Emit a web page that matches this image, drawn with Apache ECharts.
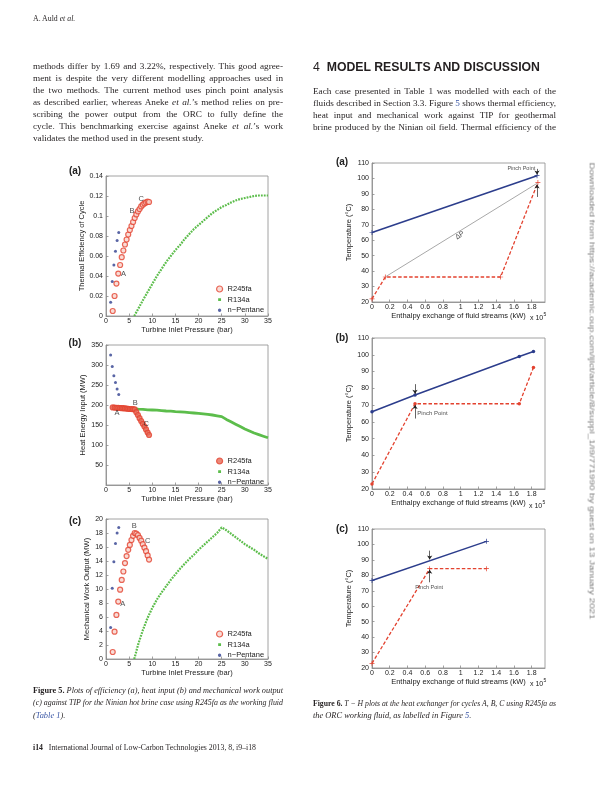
<!DOCTYPE html>
<html><head><meta charset="utf-8">
<script src="https://cdn.jsdelivr.net/npm/echarts@6.0.0/dist/echarts.min.js"></script>
<style>
html,body{margin:0;padding:0;background:#fff;}
#page{position:relative;width:612px;height:791px;overflow:hidden;background:#fff;}
#chart{position:absolute;left:0;top:0;width:612px;height:791px;}
.tx{position:absolute;color:#231f20;font-family:'Liberation Serif',serif;white-space:nowrap;line-height:12px;}
.j{text-align:justify;text-align-last:justify;}
.lnk{color:#3a56a5;}
</style></head><body><div id="page"><div id="chart"></div></div>
<script>
// ---------------- DATA (Figure 5) ----------------
const tipR245fa  = [1.45,1.85,2.25,2.65,3.05,3.4,3.75,4.1,4.45,4.8,5.15,5.5,5.85,6.2,6.55,6.9,7.25,7.6,7.95,8.3,8.65,9.0,9.3];
const effR245fa  = [0.005,0.020,0.0324,0.0424,0.051,0.0588,0.0655,0.0715,0.0765,0.0815,0.086,0.090,0.094,0.098,0.1016,0.1046,0.107,0.1096,0.1113,0.1126,0.1136,0.1143,0.1140];
const heatR245fa = [194,193.5,193,193,192.5,192,192,191.5,191,190.5,190,190,189.5,189,182,175,167,160,153,146,139,131,125];
const workR245fa = [1.0,3.9,6.3,8.2,9.9,11.3,12.5,13.7,14.7,15.6,16.3,17.0,17.6,18.0,17.9,17.7,17.3,16.9,16.4,15.9,15.4,14.8,14.2];

const tipPentane  = [1.0,1.35,1.7,2.05,2.4,2.75];
const effPentane  = [0.0137,0.0344,0.051,0.0648,0.0755,0.0835];
const heatPentane = [325,296,273,256,240,226];
const workPentane = [4.5,10.1,13.9,16.5,18.0,18.8];

const tipR134a  = [6.1,7,8,9,10,11,12,13,14,15,16,17,18,19,20,21,22,23,24,25,26,27,28,29,30,31,32,33,34,35];
const effR134a  = [0,0.0075,0.016,0.024,0.032,0.040,0.047,0.054,0.060,0.066,0.071,0.077,0.082,0.087,0.091,0.095,0.099,0.103,0.106,0.109,0.111,0.1135,0.1155,0.117,0.118,0.119,0.120,0.1205,0.1205,0.1205];
const heatR134a = [190,189.5,189,188,187.5,187,186,185,184.5,183.5,183,182,181,180,179,178,176.5,175,173,171,164,158,152,146,140,135,130,126,122,118];
const workR134a = [0,2.2,4.2,5.9,7.3,8.5,9.5,10.4,11.3,12.1,12.9,13.6,14.3,14.9,15.6,16.2,16.8,17.4,18.0,18.8,18.4,17.9,17.4,16.9,16.4,16.0,15.6,15.1,14.7,14.3];

const legendNames = ['R245fa','R134a','n\u2212Pentane'];
const tipTicks = [0,5,10,15,20,25,30,35];

const cycleLabelsEff  = [{t:'A',x:3.8,y:0.0424},{t:'B',x:5.6,y:0.105},{t:'C',x:7.63,y:0.1173}];
const cycleLabelsHeat = [{t:'A',x:2.4,y:179},{t:'B',x:6.3,y:204},{t:'C',x:8.7,y:153}];
const cycleLabelsWork = [{t:'A',x:3.6,y:7.9},{t:'B',x:6.1,y:19.05},{t:'C',x:9.0,y:16.85}];

// ---------------- DATA (Figure 6), enthalpy in 10^5 kW, temperature in °C ----------------
const figA_hotH = [0,1.86],            figA_hotT = [65,101.8];
const figA_orcH = [0,0.15,1.45,1.87],  figA_orcT = [22,36.2,36.2,97.4];
const figA_refH = [0.16,1.86],         figA_refT = [36.6,96.8];
const figB_hotH = [0,0.485,1.66,1.82], figB_hotT = [66,76,99,102];
const figB_orcH = [0,0.485,1.66,1.82], figB_orcT = [23,70.8,70.8,92.4];
const figC_hotH = [0,1.29],            figC_hotT = [76.7,102];
const figC_orcH = [0,0.65,1.29],       figC_orcT = [23,84.3,84.3];

const pinchArrowsA = [[[1.86,106.2],[1.86,102.5]],[[1.86,88],[1.86,96]]];
const pinchArrowsB = [[[0.485,82.5],[0.485,76.7]],[[0.485,62],[0.485,70.1]]];
const pinchArrowsC = [[[0.65,96],[0.65,90.3]],[[0.65,75.5],[0.65,83.6]]];
const notesA = [{t:'Pinch Point',x:1.84,y:106.5,align:'right'},{t:'\u0394P',x:0.99,y:63.2,rot:32,size:7}];
const notesB = [{t:'Pinch Point',x:0.51,y:65,align:'left'}];
const notesC = [{t:'Pinch Point',x:0.644,y:72.4}];

// ---------------- PAGE TEXT ----------------
const page = document.getElementById('page');
function place(html, left, cy, o){
  const d=document.createElement('div'); d.className='tx'; d.innerHTML=html;
  d.style.fontSize=(o.size||9.2)+'px';
  if(o.family) d.style.fontFamily=o.family;
  if(o.color) d.style.color=o.color;
  d.style.left=left+'px'; d.style.top=(cy-6)+'px';
  page.appendChild(d);
  const w=d.getBoundingClientRect().width;
  if(o.justify){
    if(w>o.justify){ d.style.transformOrigin='0 50%'; d.style.transform='scaleX('+(o.justify/w)+')'; }
    else { d.style.whiteSpace='normal'; d.style.width=o.justify+'px'; d.classList.add('j'); }
  } else if(o.fit){
    d.style.transformOrigin='0 50%'; d.style.transform='scaleX('+(o.fit/w)+')';
  }
  return d;
}
place('A. Auld <i>et al.</i>',33,19,{size:7.8});
const leftLines=[
 'methods differ by 1.69 and 3.22%, respectively. This good agree-',
 'ment is despite the very different modelling approaches used in',
 'the two methods. The current method uses pinch point analysis',
 'as described earlier, whereas Aneke <i>et al.</i>\u2019s method relies on pre-',
 'scribing the power output from the ORC to fully define the',
 'cycle. This benchmarking exercise against Aneke <i>et al.</i>\u2019s work',
 'validates the method used in the present study.'];
leftLines.forEach((s,i)=>place(s,33,66+i*12,i<6?{justify:250}:{}));
place('<span style="font-weight:400">4</span>&nbsp;&nbsp;<b>MODEL RESULTS AND DISCUSSION</b>',313,67,{size:13.5,family:"'Liberation Sans',sans-serif",fit:227});
const rightLines=[
 'Each case presented in Table 1 was modelled with each of the',
 'fluids described in Section 3.3. Figure <span class="lnk">5</span> shows thermal efficiency,',
 'heat input and mechanical work against TIP for geothermal',
 'brine produced by the Ninian oil field. Thermal efficiency of the'];
rightLines.forEach((s,i)=>place(s,313,91+i*12,{justify:243}));
const cap5=[
 '<b>Figure 5.</b> <i>Plots of efficiency (a), heat input (b) and mechanical work output</i>',
 '<i>(c) against TIP for the Ninian hot brine case using R245fa as the working fluid</i>',
 '<i>(<span class="lnk">Table 1</span>).</i>'];
cap5.forEach((s,i)=>place(s,33,691+i*12.3,i<2?{size:8.4,justify:250}:{size:8.4}));
const cap6=[
 '<b>Figure 6.</b> <i>T \u2212 H plots at the heat exchanger for cycles A, B, C using R245fa as</i>',
 '<i>the ORC working fluid, as labelled in Figure <span class="lnk">5</span>.</i>'];
cap6.forEach((s,i)=>place(s,313,704+i*12.3,i<1?{size:8.4,justify:243}:{size:8.4}));
place('<b>i14</b>&nbsp;&nbsp; International Journal of Low-Carbon Technologies 2013, 8, i9\u2013i18',33,748,{size:8.4,fit:223});
(function(){
  const d=document.createElement('div'); d.className='tx';
  d.textContent='Downloaded from https://academic.oup.com/ijlct/article/8/suppl_1/i9/771990 by guest on 13 January 2021';
  d.style.fontFamily="'Liberation Sans',sans-serif"; d.style.fontSize='7.2px'; d.style.color='#7a7a7a';
  page.appendChild(d);
  const w=d.getBoundingClientRect().width;
  d.style.left=(592-w/2)+'px'; d.style.top=(391-6)+'px';
  d.style.transformOrigin='50% 50%';
  d.style.transform='rotate(90deg) scaleX('+(457/w)+')';
})();

// ---------------- CHART ----------------
const F='Liberation Sans', TXT='#222', AX='#8a8a8a';
const C_RED='#e3422f', C_GREEN='#5cbd4b', C_BLUE='#2f3f8f', C_HOT='#2c3d8c', C_GRAY='#a8a8a8';
const gridsPx=[
 {left:106,top:176,width:162,height:140},
 {left:106,top:345,width:162,height:140},
 {left:106,top:519,width:162,height:140},
 {left:372,top:163,width:173,height:139},
 {left:372,top:338,width:173,height:151},
 {left:372,top:529,width:173,height:139}];
const grid=gridsPx.map(g=>Object.assign({show:true,borderColor:AX,borderWidth:0.8,backgroundColor:'rgba(0,0,0,0)'},g));

function vAxis(i,min,max,interval,name,nameGap,labelMargin,lblExtra){
  return {type:'value',gridIndex:i,min,max,interval,name,nameLocation:'middle',nameGap,
    nameTextStyle:{fontFamily:F,fontSize:7.5,color:TXT},
    axisLine:{show:true,onZero:false,lineStyle:{color:AX,width:0.8}},
    axisTick:{show:true,inside:true,length:2.5,lineStyle:{color:AX,width:0.8}},
    axisLabel:Object.assign({fontFamily:F,fontSize:7,color:TXT,margin:labelMargin},lblExtra||{}),
    splitLine:{show:false}};
}
const xAxis=[
  vAxis(0,tipTicks[0],tipTicks[tipTicks.length-1],5,'Turbine Inlet Pressure (bar)',10,2),
  vAxis(1,tipTicks[0],tipTicks[tipTicks.length-1],5,'Turbine Inlet Pressure (bar)',10,2),
  vAxis(2,tipTicks[0],tipTicks[tipTicks.length-1],5,'Turbine Inlet Pressure (bar)',10,2),
  vAxis(3,0,1.95,0.2,'Enthalpy exchange of fluid streams (kW)',8,2,{showMaxLabel:false}),
  vAxis(4,0,1.95,0.2,'Enthalpy exchange of fluid streams (kW)',8,2,{showMaxLabel:false}),
  vAxis(5,0,1.95,0.2,'Enthalpy exchange of fluid streams (kW)',8,2,{showMaxLabel:false})];
const yAxis=[
  vAxis(0,0,0.14,0.02,'Thermal Efficiency of Cycle',18,3),
  vAxis(1,0,350,50,'Heat Energy Input (MW)',15.5,3,{showMinLabel:false}),
  vAxis(2,0,20,2,'Mechanical Work Output (MW)',15.5,3),
  vAxis(3,20,110,10,'Temperature (\u00B0C)',15.5,3),
  vAxis(4,20,110,10,'Temperature (\u00B0C)',15.5,3),
  vAxis(5,20,110,10,'Temperature (\u00B0C)',15.5,3)];

const zip=(xs,ys)=>xs.map((x,i)=>[x,ys[i]]);
const ringStyle={color:'#f8d3cc',borderColor:C_RED,borderWidth:1.2};
const bandStyle={color:'#e66a58',borderColor:C_RED,borderWidth:1.2};
function r245(i,ys,st){return {name:legendNames[0],type:'scatter',xAxisIndex:i,yAxisIndex:i,symbol:'circle',symbolSize:5,itemStyle:st||ringStyle,data:zip(tipR245fa,ys),z:3,silent:true};}
function r134(i,ys,solid){return {name:legendNames[1],type:'line',xAxisIndex:i,yAxisIndex:i,symbol:'none',showSymbol:false,
  lineStyle:{color:C_GREEN,width:solid?2.8:2.2,type:solid?'solid':[1.8,1.1]},itemStyle:{color:C_GREEN},data:zip(tipR134a,ys),z:2,silent:true};}
function pent(i,ys){return {name:legendNames[2],type:'scatter',xAxisIndex:i,yAxisIndex:i,symbol:'circle',symbolSize:3,itemStyle:{color:C_BLUE},data:zip(tipPentane,ys),z:4,silent:true};}
function notes(i,items,size){return {type:'scatter',xAxisIndex:i,yAxisIndex:i,symbolSize:0.1,itemStyle:{color:'rgba(0,0,0,0)'},silent:true,z:6,
  data:items.map(o=>({name:o.t,value:[o.x,o.y],label:{show:true,formatter:'{b}',position:'inside',align:o.align||'center',verticalAlign:'middle',
    rotate:o.rot||0,fontFamily:F,fontSize:o.size||size,color:TXT}}))};}
const plusPath='path://M4.3,0H5.7V4.3H10V5.7H5.7V10H4.3V5.7H0V4.3H4.3Z';
function tLine(i,xs,ys,color,dashed,symbol,size,width){return {type:'line',xAxisIndex:i,yAxisIndex:i,data:zip(xs,ys),
  symbol,symbolSize:size,showSymbol:symbol!=='none',showAllSymbol:true,silent:true,
  lineStyle:{color,width,type:dashed?[3.5,2]:'solid'},itemStyle:{color,borderWidth:0},z:3};}
function arrows(i,segs){return {type:'lines',coordinateSystem:'cartesian2d',xAxisIndex:i,yAxisIndex:i,symbol:['none','arrow'],symbolSize:[1,4],
  silent:true,z:5,lineStyle:{color:'#222',width:0.7,opacity:1},data:segs.map(s=>({coords:s}))};}

const series=[
  r134(0,effR134a,false), r245(0,effR245fa), pent(0,effPentane), notes(0,cycleLabelsEff,7.5),
  r134(1,heatR134a,true), r245(1,heatR245fa,bandStyle), pent(1,heatPentane), notes(1,cycleLabelsHeat,7.5),
  r134(2,workR134a,false), r245(2,workR245fa), pent(2,workPentane), notes(2,cycleLabelsWork,7.5),
  tLine(3,figA_refH,figA_refT,C_GRAY,false,'none',0,1),
  tLine(3,figA_hotH,figA_hotT,C_HOT,false,plusPath,5,1.6),
  tLine(3,figA_orcH,figA_orcT,C_RED,true,plusPath,5,1.3),
  arrows(3,pinchArrowsA), notes(3,notesA,5.5),
  tLine(4,figB_hotH,figB_hotT,C_HOT,false,'circle',3.5,1.5),
  tLine(4,figB_orcH,figB_orcT,C_RED,true,'circle',3.5,1.3),
  arrows(4,pinchArrowsB), notes(4,notesB,6),
  tLine(5,figC_hotH,figC_hotT,C_HOT,false,plusPath,5,1.5),
  tLine(5,figC_orcH,figC_orcT,C_RED,true,plusPath,5,1.3),
  arrows(5,pinchArrowsC), notes(5,notesC,5.5)];

// small centred icons inside the 6x6 legend box (corner specks fix the bounding box)
const specks='M0,0h0.01v0.01h-0.01z M9.99,9.99h0.01v0.01h-0.01z ';
const smallSquare='path://'+specks+'M2.6,2.6h4.8v4.8h-4.8z';
const smallDot='path://'+specks+'M5,2.2a2.8,2.8 0 1,1 -0.01,0z';
function legendAt(top,band){return {orient:'vertical',left:216,top,padding:0,itemWidth:6,itemHeight:6,itemGap:2.6,selectedMode:false,
  textStyle:{fontFamily:F,fontSize:7.5,color:TXT},
  data:[{name:legendNames[0],icon:'circle',itemStyle:band?{color:'#e66a58',borderColor:C_RED,borderWidth:1.2}:{color:'#f8d3cc',borderColor:C_RED,borderWidth:1.2}},
        {name:legendNames[1],icon:smallSquare,itemStyle:{color:C_GREEN,borderWidth:0}},
        {name:legendNames[2],icon:smallDot,itemStyle:{color:C_BLUE,borderWidth:0}}]};}

function gtext(t,x,y,font){return {type:'text',x,y,silent:true,style:{text:t,fill:TXT,font,align:'center',verticalAlign:'middle'}};}
const panelFont='bold 10px "Liberation Sans"';
const graphic=[
  gtext('(a)',75,171,panelFont),gtext('(b)',75,343,panelFont),gtext('(c)',75,521,panelFont),
  gtext('(a)',342,162,panelFont),gtext('(b)',342,338,panelFont),gtext('(c)',342,529,panelFont)];
[[530,318],[529,506],[530,684]].forEach(p=>{
  graphic.push({type:'text',x:p[0],y:p[1],silent:true,style:{text:'x 10',fill:TXT,font:'7px "Liberation Sans"',align:'left',verticalAlign:'middle'}});
  graphic.push({type:'text',x:p[0]+13.5,y:p[1]-3,silent:true,style:{text:'5',fill:TXT,font:'5px "Liberation Sans"',align:'left',verticalAlign:'middle'}});
});

const chart=echarts.init(document.getElementById('chart'),null,{renderer:'canvas'});
chart.setOption({animation:false,backgroundColor:'rgba(0,0,0,0)',grid,xAxis,yAxis,series,
  legend:[legendAt(285,false),legendAt(457,true),legendAt(630,false)],graphic});
</script></body></html>
